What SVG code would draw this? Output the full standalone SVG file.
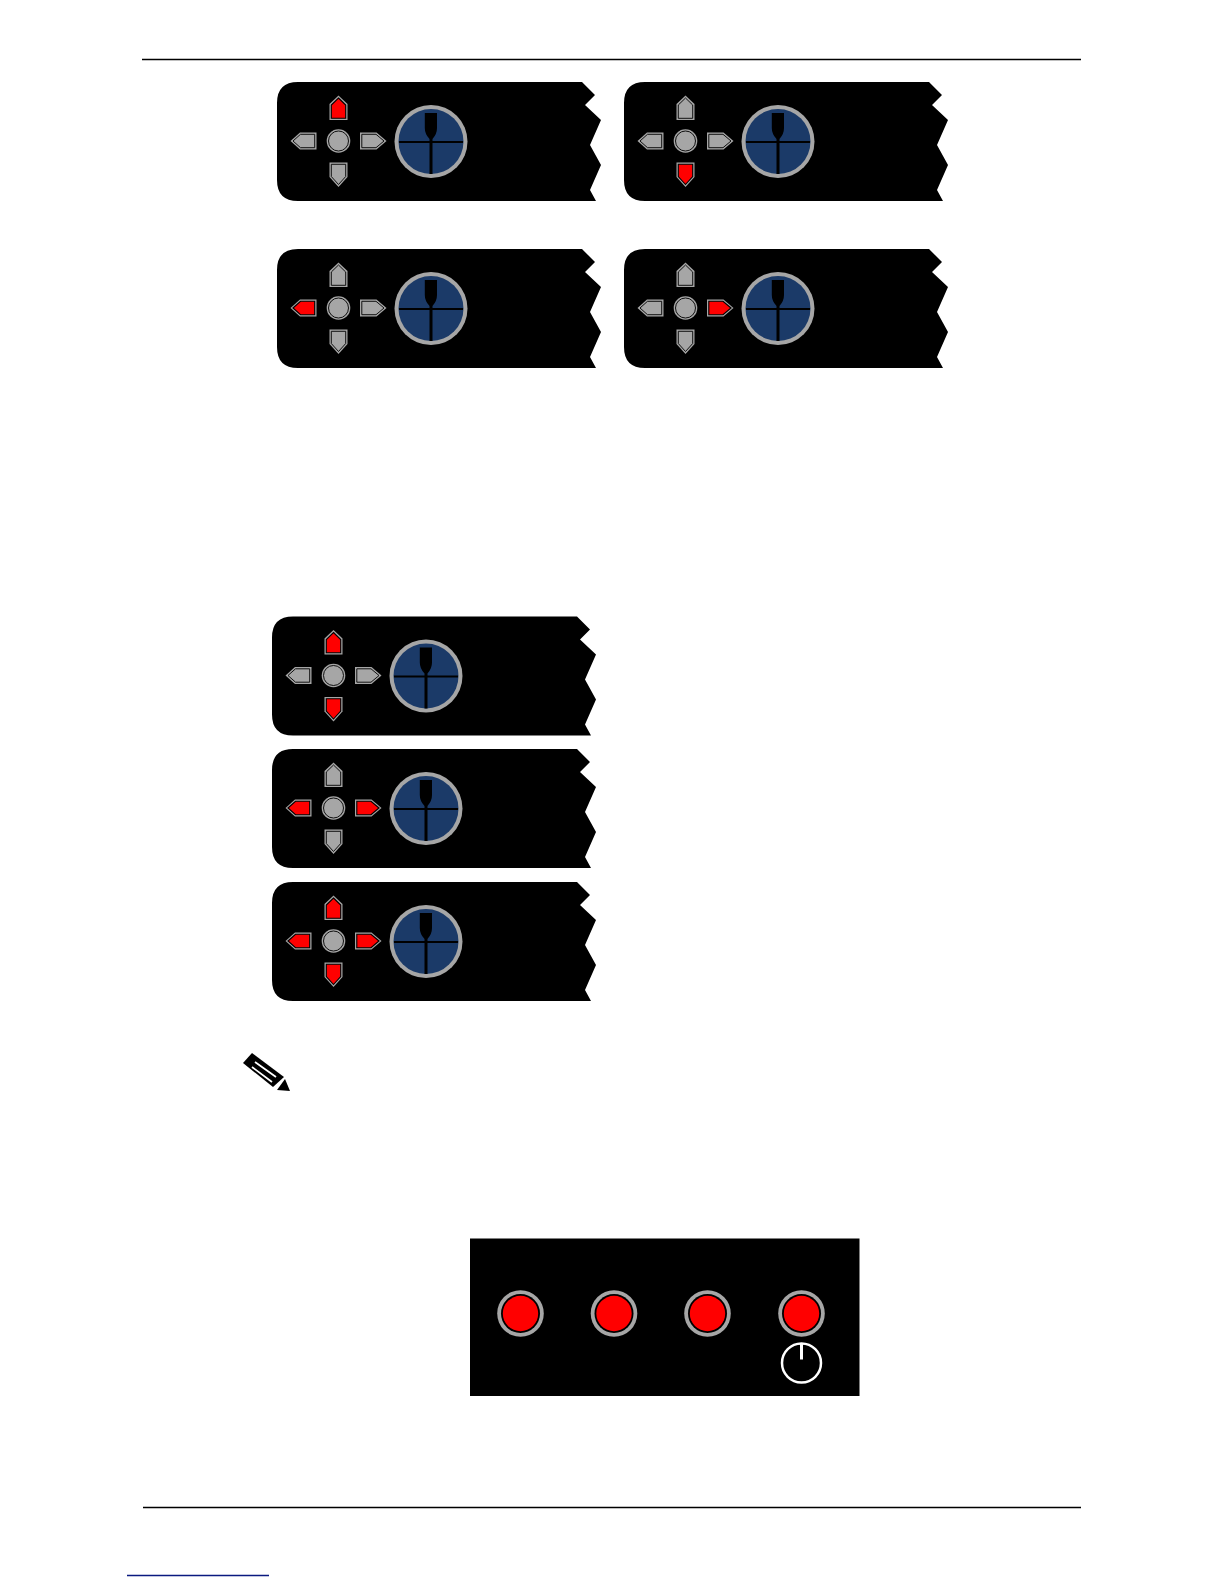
<svg xmlns="http://www.w3.org/2000/svg" xmlns:xlink="http://www.w3.org/1999/xlink" width="1224" height="1584" viewBox="0 0 1224 1584">
<style>
.body{fill:#000}
.off{fill:#a6a6a6;stroke:#000;stroke-width:.9}
.on{fill:#f00;stroke:#000;stroke-width:1.1}
.led-o{fill:#a6a6a6}
.led-m{fill:#000}
.led-i{fill:#f00}
.rule{stroke:#000;stroke-width:1.4}
</style>
<defs>
<g id="panel">
<path class="body" d="M298 82H582L595 95L585 105L601 120L590 145L601 165L590 190L596 201H298Q277 201 277 180V103Q277 82 298 82Z"/>
<circle cx="431" cy="141.500" r="36.500" fill="#a6a6a6"/>
<circle cx="431" cy="141.500" r="32.500" fill="#1b3a68"/>
<path d="M424.800 113H437V128Q437 134 432.500 139V141H463V143H432.500V174H429.500V143H399V141H429.500V139Q424.800 134 424.800 128Z" fill="#000"/>
<circle cx="338.500" cy="141" r="11.800" fill="#a6a6a6"/>
<circle cx="338.500" cy="141" r="10" fill="none" stroke="#000" stroke-width=".9"/>
<path d="M338.500 95.500L347.500 104V120H329.500V104Z" fill="#a6a6a6"/>
<path d="M338.500 187L347.500 177V162.500H329.500V177Z" fill="#a6a6a6"/>
<path d="M290.500 141L300 132.500H316.500V149.500H300Z" fill="#a6a6a6"/>
<path d="M386.500 141L376.500 132.500H360V149.500H376.500Z" fill="#a6a6a6"/>
</g>
<path id="up" d="M338.500 98L345.700 105V118.300H331.300V105Z"/>
<path id="dn" d="M338.500 184.500L345.700 176.500V164.300H331.300V176.500Z"/>
<path id="lf" d="M293 141L300.500 134.300H314.700V147.700H300.500Z"/>
<path id="rt" d="M384 141L376 134.300H361.800V147.700H376Z"/>
</defs>
<rect width="1224" height="1584" fill="#fff"/>
<line class="rule" x1="142" y1="59.500" x2="1081" y2="59.500"/>
<line class="rule" x1="143" y1="1507.500" x2="1081" y2="1507.500"/>
<line x1="127" y1="1575.500" x2="269" y2="1575.500" stroke="#0b1a80" stroke-width="1.400"/>

<g id="panel-up">
<use xlink:href="#panel"/>
<use xlink:href="#up" class="on"/><use xlink:href="#dn" class="off"/><use xlink:href="#lf" class="off"/><use xlink:href="#rt" class="off"/>
</g>
<g id="panel-down" transform="translate(347 0)">
<use xlink:href="#panel"/>
<use xlink:href="#up" class="off"/><use xlink:href="#dn" class="on"/><use xlink:href="#lf" class="off"/><use xlink:href="#rt" class="off"/>
</g>
<g id="panel-left" transform="translate(0 167)">
<use xlink:href="#panel"/>
<use xlink:href="#up" class="off"/><use xlink:href="#dn" class="off"/><use xlink:href="#lf" class="on"/><use xlink:href="#rt" class="off"/>
</g>
<g id="panel-right" transform="translate(347 167)">
<use xlink:href="#panel"/>
<use xlink:href="#up" class="off"/><use xlink:href="#dn" class="off"/><use xlink:href="#lf" class="off"/><use xlink:href="#rt" class="on"/>
</g>
<g id="panel-updown" transform="translate(-5 534.500)">
<use xlink:href="#panel"/>
<use xlink:href="#up" class="on"/><use xlink:href="#dn" class="on"/><use xlink:href="#lf" class="off"/><use xlink:href="#rt" class="off"/>
</g>
<g id="panel-leftright" transform="translate(-5 667)">
<use xlink:href="#panel"/>
<use xlink:href="#up" class="off"/><use xlink:href="#dn" class="off"/><use xlink:href="#lf" class="on"/><use xlink:href="#rt" class="on"/>
</g>
<g id="panel-all" transform="translate(-5 800)">
<use xlink:href="#panel"/>
<use xlink:href="#up" class="on"/><use xlink:href="#dn" class="on"/><use xlink:href="#lf" class="on"/><use xlink:href="#rt" class="on"/>
</g>

<g id="note-pencil">
<path d="M243 1063L252 1053L284 1077L273 1087Z" fill="#000"/>
<path d="M255 1062L276 1077M252 1067L272 1082" stroke="#fff" stroke-width="1.800"/>
<path d="M285 1079L290 1091L277 1090Z" fill="#000"/>
</g>

<g id="led-panel">
<rect x="470" y="1238.500" width="389.500" height="157.500" fill="#000"/>
<g id="led-1"><circle class="led-o" cx="520.500" cy="1313.500" r="23.300"/><circle class="led-m" cx="520.500" cy="1313.500" r="19.500"/><circle class="led-i" cx="520.500" cy="1313.500" r="17.700"/></g>
<g id="led-2"><circle class="led-o" cx="614" cy="1313.500" r="23.300"/><circle class="led-m" cx="614" cy="1313.500" r="19.500"/><circle class="led-i" cx="614" cy="1313.500" r="17.700"/></g>
<g id="led-3"><circle class="led-o" cx="707.500" cy="1313.500" r="23.300"/><circle class="led-m" cx="707.500" cy="1313.500" r="19.500"/><circle class="led-i" cx="707.500" cy="1313.500" r="17.700"/></g>
<g id="led-4"><circle class="led-o" cx="801.500" cy="1313.500" r="23.300"/><circle class="led-m" cx="801.500" cy="1313.500" r="19.500"/><circle class="led-i" cx="801.500" cy="1313.500" r="17.700"/></g>
<g id="power" fill="none" stroke="#fff" stroke-width="2.500"><circle cx="801.500" cy="1363" r="19.500"/><line x1="801.500" y1="1343" x2="801.500" y2="1359.500" stroke-width="3"/></g>
</g>
</svg>
